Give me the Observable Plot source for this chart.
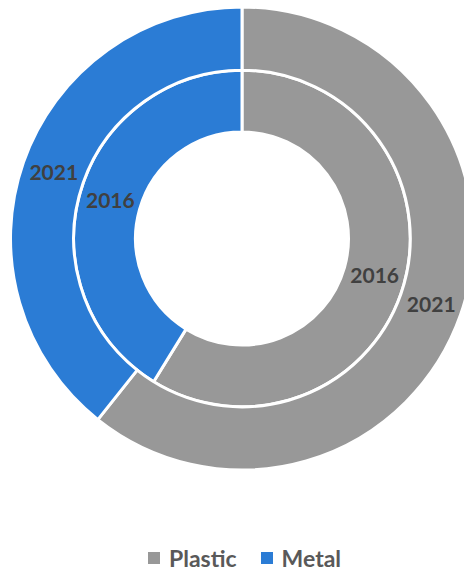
<!DOCTYPE html>
<html>
<head>
<meta charset="utf-8">
<script src="https://cdn.jsdelivr.net/npm/d3@7"></script>
<script src="https://cdn.jsdelivr.net/npm/@observablehq/plot@0.6"></script>
<style>
  body { margin: 0; background: #fff; }
  #chart svg { display: block; }
  .lg-swatches .lg-swatch { margin-right: 24px; }
  .lg-swatches .lg-swatch > svg { margin-right: 9px; }
</style>
</head>
<body>
<div id="chart"></div>
<script>
// ---- data ----
const categories = ["Plastic", "Metal"];
const years = ["2016", "2021"];
const values2016 = [58.8, 41.2];
const values2021 = [60.7, 39.3];
const colors = ["#989898", "#2b7cd5"];

// ---- layout (in unit-radius coordinates) ----
const ringSpec = [
  { year: years[0], values: values2016, r0: 0.46, r1: 0.727 },
  { year: years[1], values: values2021, r0: 0.727, r1: 1.0 }
];

const pie = d3.pie().sort(null).value(d => d.value);
const slices = ringSpec.flatMap(ring =>
  pie(categories.map((c, i) => ({ category: c, value: ring.values[i] }))).map(a => ({
    category: a.data.category,
    year: ring.year,
    startAngle: a.startAngle,
    endAngle: a.endAngle,
    r0: ring.r0,
    r1: ring.r1,
    mid: (a.startAngle + a.endAngle) / 2,
    rm: (ring.r0 + ring.r1) / 2
  }))
);

const colorScale = Plot.scale({ color: { type: "ordinal", domain: categories, range: colors } });

function arcMark(index, scales, values, dimensions, context) {
  const cx = scales.x(0), cy = scales.y(0);
  const k = scales.x(1) - scales.x(0);
  const arc = d3.arc();
  const g = d3.create("svg:g").attr("transform", `translate(${cx},${cy})`);
  g.selectAll("path")
    .data(slices)
    .join("path")
    .attr("d", d => arc({ innerRadius: d.r0 * k, outerRadius: d.r1 * k, startAngle: d.startAngle, endAngle: d.endAngle }))
    .attr("fill", d => colorScale.apply(d.category))
    .attr("stroke", "#ffffff")
    .attr("stroke-width", 3)
    .attr("stroke-linejoin", "round");
  return g.node();
}

const plot = Plot.plot({
  width: 464,
  height: 542,
  x: { domain: [-1, 1], range: [10.5, 473.5], axis: null },
  y: { domain: [-1, 1], range: [470, 7], axis: null },
  style: { background: "#ffffff", overflow: "hidden" },
  marks: [
    arcMark,
    Plot.text(slices, {
      x: d => d.rm * Math.sin(d.mid),
      y: d => d.rm * Math.cos(d.mid),
      text: "year",
      fontSize: 21,
      fontWeight: "bold",
      fontFamily: "Lato",
      fill: "#404040"
    })
  ]
});

const legend = Plot.legend({
  color: { type: "ordinal", domain: categories, range: colors },
  swatchSize: 12,
  className: "lg",
  marginLeft: 148,
  style: {
    fontFamily: "Lato",
    fontWeight: "bold",
    fontSize: "23px",
    color: "#595959",
    marginBottom: "0",
    minHeight: "31px"
  }
});

const root = document.getElementById("chart");
root.appendChild(plot);
root.appendChild(legend);
</script>
</body>
</html>
